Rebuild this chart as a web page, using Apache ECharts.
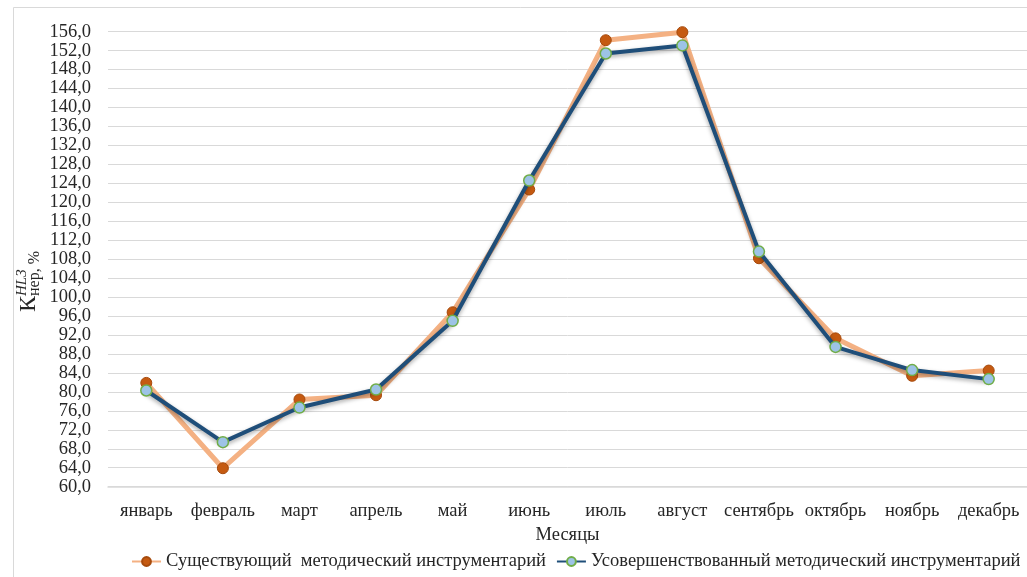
<!DOCTYPE html>
<html>
<head>
<meta charset="utf-8">
<script src="https://cdn.jsdelivr.net/npm/echarts@6/dist/echarts.min.js"></script>
<style>html,body{margin:0;padding:0;background:#fff;}#c{width:1027px;height:577px;}</style>
</head>
<body>
<div id="c"></div>
<script>
const months = ['январь','февраль','март','апрель','май','июнь','июль','август','сентябрь','октябрь','ноябрь','декабрь'];
const existing = [81.9, 63.9, 78.4, 79.3, 96.8, 122.7, 154.2, 155.9, 108.2, 91.3, 83.4, 84.5];
const improved = [80.3, 69.4, 76.7, 80.5, 95.0, 124.6, 151.4, 153.1, 109.6, 89.5, 84.6, 82.7];
const seriesNames = ['Существующий  методический инструментарий', 'Усовершенствованный методический инструментарий'];
const yMin = 60, yMax = 156, yStep = 4;

const FONT = '"Liberation Serif", "DejaVu Serif", serif';
const FS = 18.5;
const chart = echarts.init(document.getElementById('c'), null, {renderer: 'canvas'});
chart.setOption({
  backgroundColor: '#fff',
  animation: false,
  textStyle: {fontFamily: FONT, color: '#262626'},
  grid: {left: 108, right: -6, top: 31.7, bottom: 90.3},
  legend: {
    bottom: 1, left: 126,
    itemWidth: 29, itemHeight: 11, itemGap: 10,
    textStyle: {fontFamily: FONT, fontSize: FS, color: '#262626'},
    data: seriesNames
  },
  xAxis: {
    type: 'category', data: months, boundaryGap: true,
    axisTick: {show: false},
    axisLine: {lineStyle: {color: '#d9d9d9', width: 1.5}},
    axisLabel: {fontFamily: FONT, fontSize: FS, color: '#262626', margin: 15, interval: 0},
    name: 'Месяцы', nameLocation: 'middle', nameGap: 39,
    nameTextStyle: {fontFamily: FONT, fontSize: FS, color: '#262626'}
  },
  yAxis: {
    type: 'value', min: yMin, max: yMax, interval: yStep,
    axisLine: {show: false}, axisTick: {show: false},
    splitLine: {lineStyle: {color: '#d9d9d9', width: 1}},
    axisLabel: {fontFamily: FONT, fontSize: FS, color: '#262626', margin: 17,
      formatter: v => v.toFixed(1).replace('.', ',')}
  },
  graphic: [
    {type: 'rect', silent: true, z: -10,
     shape: {x: 13.5, y: 7.5, width: 1030, height: 600},
     style: {fill: 'none', stroke: '#d9d9d9', lineWidth: 1}},
    {type: 'group', x: 29, y: 312, rotation: Math.PI / 2, children: [
      {type: 'text', x: 0, y: 0, style: {text: 'К', font: '24px ' + FONT, fill: '#262626', textAlign: 'left', textVerticalAlign: 'middle'}},
      {type: 'text', x: 16, y: 6, style: {text: 'нер, %', font: '16px ' + FONT, fill: '#262626', textAlign: 'left', textVerticalAlign: 'middle'}},
      {type: 'text', x: 16, y: -7, style: {text: 'HL3', font: 'italic 15px ' + FONT, fill: '#262626', textAlign: 'left', textVerticalAlign: 'middle'}}
    ]}
  ],
  series: [
    {
      name: seriesNames[0], type: 'line', data: existing,
      symbol: 'circle', symbolSize: 11,
      lineStyle: {color: '#F4B183', width: 5},
      itemStyle: {color: '#C55A11', borderColor: '#A64A0C', borderWidth: 1},
      z: 2
    },
    {
      name: seriesNames[1], type: 'line', data: improved,
      symbol: 'circle', symbolSize: 11,
      lineStyle: {color: '#1F4E79', width: 4, shadowBlur: 4, shadowColor: 'rgba(0,0,0,0.35)', shadowOffsetY: 2},
      itemStyle: {color: '#9DC3E6', borderColor: '#70AD47', borderWidth: 1.5},
      z: 3
    }
  ]
});
</script>
</body>
</html>
